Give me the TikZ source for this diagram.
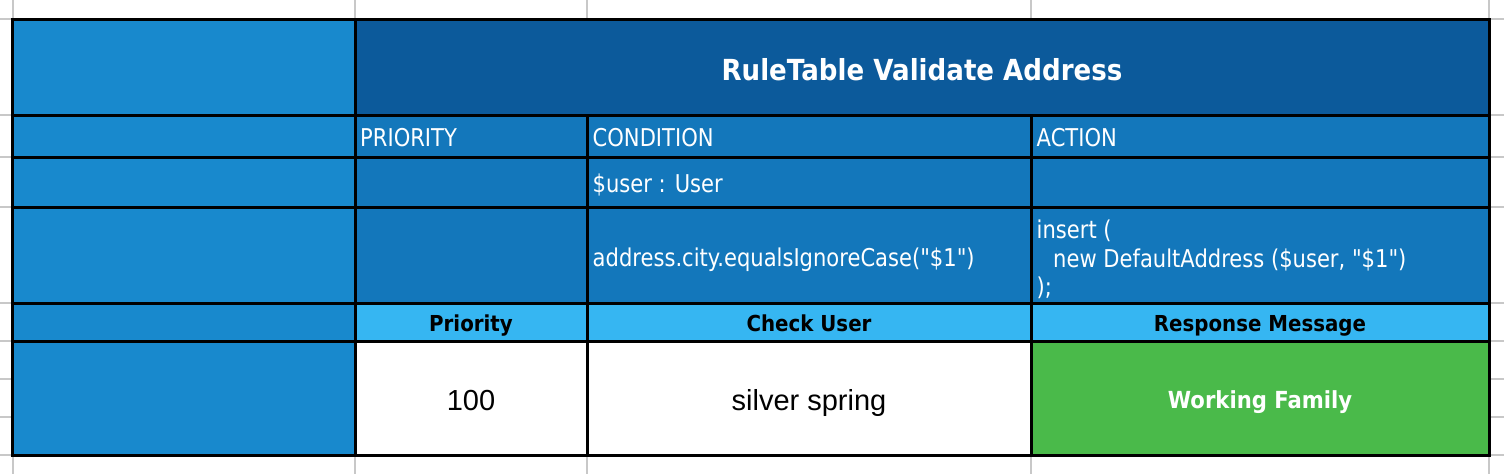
\documentclass[tikz,border=0pt]{standalone}
\usepackage{fontspec}
\setmainfont{DejaVu Sans}
\newfontfamily\tah[FakeStretch=0.86]{DejaVu Sans}
\newfontfamily\tahB[FakeStretch=0.9]{DejaVu Sans}
\newfontfamily\arialf{Liberation Sans}
\definecolor{leftblue}{RGB}{24,137,205}
\definecolor{titleblue}{RGB}{12,90,155}
\definecolor{midblue}{RGB}{19,119,187}
\definecolor{lightblue}{RGB}{54,182,242}
\definecolor{cellgreen}{RGB}{74,186,74}
\definecolor{gridgray}{RGB}{200,200,200}
\begin{document}
\begin{tikzpicture}[x=1pt,y=-1pt,
  txt/.style={inner sep=0pt, text=white, font=\tah\fontsize{24.5}{29}\selectfont, anchor=base west},
  hdr/.style={inner sep=0pt, text=black, font=\tahB\bfseries\fontsize{22}{26}\selectfont, anchor=base},
  titletxt/.style={inner sep=0pt, text=white, font=\tahB\bfseries\fontsize{29}{34}\selectfont, anchor=base},
  valtxt/.style={inner sep=0pt, text=black, font=\arialf\fontsize{29}{34}\selectfont, anchor=base},
  greentxt/.style={inner sep=0pt, text=white, font=\tahB\bfseries\fontsize{23.5}{28}\selectfont, anchor=base},
  gridline/.style={draw=gridgray, line width=2pt},
  rulebk/.style={draw=black, line width=3pt}]
\useasboundingbox (0,0) rectangle (1504,474);
% spreadsheet grid outside the table
\foreach \yy in {19,115,157,207,303,341,379,417,455} {
  \draw[gridline] (0,\yy) -- (12,\yy);
  \draw[gridline] (1489,\yy) -- (1504,\yy);
}
\foreach \xx in {13,355,587,1031,1489} {
  \draw[gridline] (\xx,0) -- (\xx,19);
  \draw[gridline] (\xx,455) -- (\xx,474);
}
% cell fills
\fill[leftblue] (12,19) rectangle (355,455);
\fill[titleblue] (355,19) rectangle (1489,115);
\fill[midblue] (355,115) rectangle (1489,303);
\fill[lightblue] (355,303) rectangle (1489,341);
\fill[white] (355,341) rectangle (1031,455);
\fill[cellgreen] (1031,341) rectangle (1489,455);
% rules
\foreach \yy in {115,157,207,303,341} {
  \draw[rulebk] (12,\yy) -- (1489,\yy);
}
\draw[rulebk] (355,19) -- (355,455);
\draw[rulebk] (587,115) -- (587,455);
\draw[rulebk] (1031,115) -- (1031,455);
\draw[rulebk] (12,19) rectangle (1489,455);
% texts
\node[titletxt] (title) at (922,80) {RuleTable Validate Address};
\node[txt] (prio) at (360,146.7) {PRIORITY};
\node[txt] (cond) at (592.5,146.7) {CONDITION};
\node[txt] (act) at (1036.5,146.7) {ACTION};
\node[txt] (user) at (592.5,192) {\$user : User};
\node[txt] (expr) at (592.5,266) {address.city.equalsIgnoreCase("\$1")};
\node[txt] (ins1) at (1036.5,238) {insert (};
\node[txt] (ins2) at (1053,267) {new DefaultAddress (\$user, "\$1")};
\node[txt] (ins3) at (1036.5,295) {);};
\node[hdr] (hprio) at (471,331.5) {Priority};
\node[hdr] (hcheck) at (809,331.5) {Check User};
\node[hdr] (hresp) at (1260,331.5) {Response Message};
\node[valtxt] (v100) at (471,410) {100};
\node[valtxt] (vcity) at (809,410) {silver spring};
\node[greentxt] (vmsg) at (1260,408.5) {Working Family};
\end{tikzpicture}
\end{document}
